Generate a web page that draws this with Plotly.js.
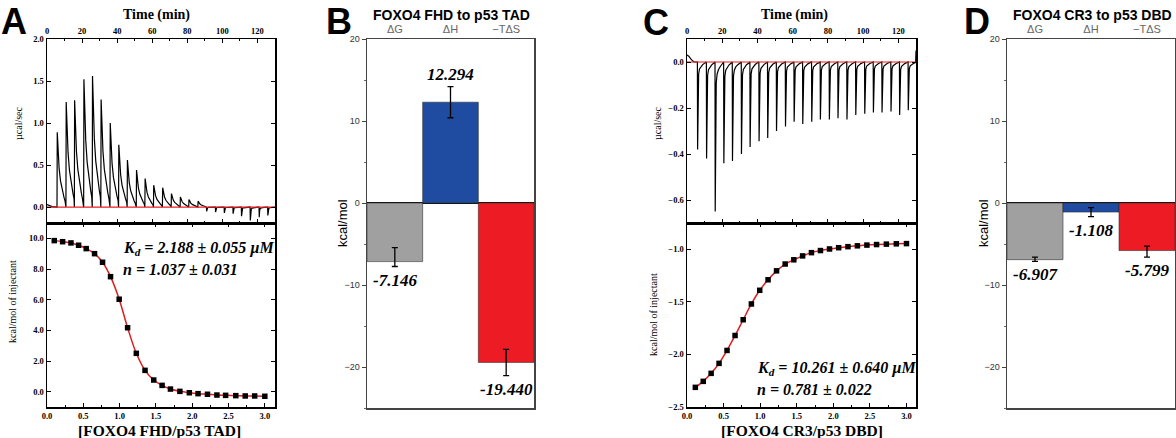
<!DOCTYPE html>
<html>
<head>
<meta charset="utf-8">
<script src="https://cdn.plot.ly/plotly-3.0.1.min.js"></script>
<style>html,body{margin:0;padding:0;background:#fff;}#chart{width:1176px;height:438px;}</style>
</head>
<body>
<div id="chart"></div>
<script>
// ---------- Panel A : FOXO4 FHD titrated into p53 TAD ----------
const injTimeA = [5.7, 10.8, 15.6, 20.9, 25.8, 30.7, 35.9, 40.8, 45.7, 50.9, 55.8, 60.7, 65.8, 70.8, 75.9, 80.8, 86.0, 90.9, 96.0, 101.0, 106.0, 110.8, 115.8, 120.9, 125.8];
const peakA = [0.89, 1.25, 1.27, 1.52, 1.56, 1.28, 1.00, 0.74, 0.56, 0.44, 0.34, 0.26, 0.23, 0.16, 0.12, 0.09, 0.07, -0.05, -0.06, -0.07, -0.08, -0.11, -0.16, -0.12, -0.10];
// decay profile of an injection peak (broad for large peaks, sharp for small dips)
const broadOffset = [0, 0.15, 0.6, 1.2, 2.0, 3.0, 4.0, 4.6];
const broadFrac = [0, 1, 0.72, 0.52, 0.35, 0.22, 0.13, 0.08];
const sharpOffset = [0, 0.12, 0.35, 0.7, 1.2, 2.0, 3.0, 4.3];
const sharpFrac = [0, 1, 0.35, 0.14, 0.08, 0.05, 0.03, 0.01];
const leadTimeA = [0, 1.5, 3.0, 5.5];
const leadValA = [0.03, 0.02, 0.005, 0];
const tailTimeA = [130];
const tailValA = [0];
const ratioA = [0.10, 0.215, 0.33, 0.435, 0.54, 0.655, 0.765, 0.875, 0.994, 1.11, 1.23, 1.35, 1.47, 1.585, 1.70, 1.83, 1.96, 2.08, 2.21, 2.34, 2.46, 2.60, 2.73, 2.86, 3.00];
const heatA = [9.85, 9.78, 9.70, 9.55, 9.33, 9.00, 8.44, 7.50, 6.03, 4.17, 2.50, 1.39, 0.76, 0.41, 0.17, 0.02, -0.07, -0.13, -0.17, -0.22, -0.24, -0.26, -0.28, -0.28, -0.30];

// ---------- Panel C : FOXO4 CR3 titrated into p53 DBD ----------
const injTimeC = [5.9, 11.0, 15.9, 20.8, 25.7, 30.8, 35.7, 40.8, 45.7, 50.7, 55.8, 60.7, 65.6, 70.7, 75.6, 80.7, 85.6, 90.7, 95.7, 100.8, 105.7, 110.6, 115.7, 120.6, 125.5];
const peakC = [-0.38, -0.42, -0.65, -0.44, -0.43, -0.40, -0.37, -0.345, -0.33, -0.30, -0.28, -0.26, -0.27, -0.26, -0.25, -0.25, -0.245, -0.25, -0.23, -0.225, -0.22, -0.22, -0.215, -0.23, -0.21];
const leadTimeC = [0, 1.0, 2.5, 4.0, 5.8];
const leadValC = [0.03, 0.025, 0.01, 0.0, 0];
const tailTimeC = [130];
const tailValC = [0.05];
const ratioC = [0.114, 0.222, 0.330, 0.438, 0.547, 0.657, 0.768, 0.880, 0.994, 1.108, 1.224, 1.342, 1.460, 1.580, 1.701, 1.824, 1.948, 2.073, 2.200, 2.329, 2.459, 2.591, 2.725, 2.861, 3.000];
const heatC = [-2.313, -2.256, -2.18, -2.085, -1.962, -1.82, -1.67, -1.52, -1.39, -1.29, -1.205, -1.14, -1.10, -1.063, -1.032, -1.012, -0.997, -0.985, -0.975, -0.967, -0.960, -0.955, -0.951, -0.948, -0.946];

const baselineTime = [0, 130];
const baselineVal = [0, 0];

// ---------- Panels B and D : thermodynamic signatures ----------
const categories = ['ΔG', 'ΔH', '−TΔS'];
const barColors = ['rgb(160,160,160)', 'rgb(31,76,160)', 'rgb(237,28,36)'];
const valuesB = [-7.146, 12.294, -19.440];
const errPlusB = [1.70, 1.90, 1.60];
const errMinusB = [0.60, 1.90, 1.60];
const valuesD = [-6.907, -1.108, -5.799];
const errPlusD = [0.30, 0.55, 0.53];
const errMinusD = [0.20, 0.55, 0.80];

function buildRaw(times, peaks, useBroadForPositive, lt, lv, tt, tv) {
  const x = lt.slice(), y = lv.slice();
  times.forEach((t, i) => {
    const broad = useBroadForPositive && peaks[i] > 0;
    const offs = broad ? broadOffset : sharpOffset;
    const fracs = broad ? broadFrac : sharpFrac;
    offs.forEach((o, j) => { x.push(t + o); y.push(peaks[i] * fracs[j]); });
  });
  tt.forEach((t, i) => { x.push(t); y.push(tv[i]); });
  return {x, y};
}
const rawA = buildRaw(injTimeA, peakA, true, leadTimeA, leadValA, tailTimeA, tailValA);
const rawC = buildRaw(injTimeC, peakC, false, leadTimeC, leadValC, tailTimeC, tailValC);

const W = 1176, H = 438;
const px = v => v / W, py = v => 1 - v / H;

const traces = [
  {x: rawA.x, y: rawA.y, xaxis: 'x', yaxis: 'y', mode: 'lines', line: {color: 'black', width: 1.2}},
  {x: baselineTime, y: baselineVal, xaxis: 'x', yaxis: 'y', mode: 'lines', line: {color: 'rgb(230,30,30)', width: 1.2}},
  {x: ratioA, y: heatA, xaxis: 'x2', yaxis: 'y2', mode: 'lines', line: {color: 'rgb(220,30,30)', width: 1.5, shape: 'spline'}},
  {x: ratioA, y: heatA, xaxis: 'x2', yaxis: 'y2', mode: 'markers', marker: {symbol: 'square', size: 5.5, color: 'black'}},
  {x: categories, y: valuesB, xaxis: 'x3', yaxis: 'y3', type: 'bar',
   marker: {color: barColors, line: {color: 'rgba(40,40,40,0.7)', width: 0.8}},
   error_y: {type: 'data', symmetric: false, array: errPlusB, arrayminus: errMinusB, color: 'black', thickness: 1.3, width: 3}},
  {x: rawC.x, y: rawC.y, xaxis: 'x4', yaxis: 'y4', mode: 'lines', line: {color: 'black', width: 1.2}},
  {x: baselineTime, y: baselineVal, xaxis: 'x4', yaxis: 'y4', mode: 'lines', line: {color: 'rgb(230,30,30)', width: 1.2}},
  {x: ratioC, y: heatC, xaxis: 'x5', yaxis: 'y5', mode: 'lines', line: {color: 'rgb(220,30,30)', width: 1.5, shape: 'spline'}},
  {x: ratioC, y: heatC, xaxis: 'x5', yaxis: 'y5', mode: 'markers', marker: {symbol: 'square', size: 5.5, color: 'black'}},
  {x: categories, y: valuesD, xaxis: 'x6', yaxis: 'y6', type: 'bar',
   marker: {color: barColors, line: {color: 'rgba(40,40,40,0.7)', width: 0.8}},
   error_y: {type: 'data', symmetric: false, array: errPlusD, arrayminus: errMinusD, color: 'black', thickness: 1.3, width: 3}}
];

const serifTick = {family: 'Liberation Serif', size: 8.5, color: '#000000', weight: 700};
function itcAxis(extra) {
  return Object.assign({showline: true, linecolor: 'black', linewidth: 1.5, mirror: 'ticks',
    ticks: 'inside', ticklen: 4, tickwidth: 1, tickcolor: 'black', showgrid: false, zeroline: false,
    tickfont: serifTick, fixedrange: true}, extra);
}
function barYAxis(extra) {
  return Object.assign({showline: true, linecolor: '#444', linewidth: 1.5, mirror: true,
    ticks: 'outside', ticklen: 4, tickcolor: '#444', showgrid: false,
    zeroline: true, zerolinecolor: '#111', zerolinewidth: 1.5,
    range: [-25, 20], tickvals: [-20, -10, 0, 10, 20],
    minor: {dtick: 5, ticks: 'outside', ticklen: 2, tickcolor: '#666'},
    tickfont: {family: 'Liberation Sans', size: 9, color: '#333'}}, extra);
}
function barXAxis(extra) {
  return Object.assign({type: 'category', side: 'top', showline: true, linecolor: '#444', linewidth: 1.5,
    mirror: true, ticks: '', range: [-0.5, 2.5], showgrid: false,
    tickfont: {family: 'Liberation Sans', size: 11, color: '#666'}}, extra);
}

const domAX = [px(47), px(275)], domCX = [px(687), px(916)];
const domTopY = [py(223), py(39)], domBotY = [py(407), py(223)];

const annotations = [];
function ann(text, x, y, font, extra) {
  annotations.push(Object.assign({text, x: px(x), y: py(y), xref: 'paper', yref: 'paper',
    showarrow: false, font, xanchor: 'center', yanchor: 'middle'}, extra || {}));
}
const letterFont = {family: 'Liberation Sans', size: 36, color: 'black', weight: 'bold'};
ann('<b>A</b>', 14, 0, letterFont, {yanchor: 'top', borderpad: 0});
ann('<b>B</b>', 339, 0, letterFont, {yanchor: 'top', borderpad: 0});
ann('<b>C</b>', 656, 1, letterFont, {yanchor: 'top', borderpad: 0});
ann('<b>D</b>', 977, 0, letterFont, {yanchor: 'top', borderpad: 0});

const timeTitleFont = {family: 'Liberation Serif', size: 14, color: 'black'};
ann('<b>Time (min)</b>', 156, 15, timeTitleFont);
ann('<b>Time (min)</b>', 795, 15, timeTitleFont);
const xTitleFont = {family: 'Liberation Serif', size: 15.5, color: 'black'};
ann('<b>[FOXO4 FHD/p53 TAD]</b>', 159, 430, xTitleFont);
ann('<b>[FOXO4 CR3/p53 DBD]</b>', 802, 430, xTitleFont);
const yTitleFont = {family: 'Liberation Serif', size: 10, color: 'black'};
ann('µcal/sec', 18, 123, yTitleFont, {textangle: -90});
ann('kcal/mol of injectant', 12, 302, yTitleFont, {textangle: -90});
ann('µcal/sec', 657, 123, yTitleFont, {textangle: -90});
ann('kcal/mol of injectant', 653, 315, yTitleFont, {textangle: -90});

const fitFont = {family: 'Liberation Serif', size: 16, color: 'black'};
ann('<b><i>K<sub>d</sub> = 2.188 ± 0.055 µM</i></b>', 122, 248, fitFont, {xanchor: 'left', borderpad: 0});
ann('<b><i>n = 1.037 ± 0.031</i></b>', 122, 269, fitFont, {xanchor: 'left', borderpad: 0});
ann('<b><i>K<sub>d</sub> = 10.261 ± 0.640 µM</i></b>', 756, 368, fitFont, {xanchor: 'left', borderpad: 0});
ann('<b><i>n = 0.781 ± 0.022</i></b>', 756, 389, fitFont, {xanchor: 'left', borderpad: 0});

const panelTitleFont = {family: 'Liberation Sans', size: 14, color: 'black'};
ann('<b>FOXO4 FHD to p53 TAD</b>', 451, 15, panelTitleFont);
ann('<b>FOXO4 CR3 to p53 DBD</b>', 1092, 15, panelTitleFont);
const kcalFont = {family: 'Liberation Sans', size: 13, color: 'black'};
ann('kcal/mol', 342, 223, kcalFont, {textangle: -90});
ann('kcal/mol', 983, 223, kcalFont, {textangle: -90});

// value labels on the bars, placed through the data axes
const valFont = {family: 'Liberation Serif', size: 17, color: 'black'};
function barLabels(vals, ep, em, xr, yr) {
  vals.forEach((v, i) => {
    const pos = v >= 0;
    annotations.push({text: '<b><i>' + v.toFixed(3) + '</i></b>', x: categories[i],
      y: pos ? v + ep[i] : v - em[i], xref: xr, yref: yr, showarrow: false, font: valFont,
      xanchor: 'center', yanchor: pos ? 'bottom' : 'top', yshift: pos ? 1 : -2});
  });
}
barLabels(valuesB, errPlusB, errMinusB, 'x3', 'y3');
barLabels(valuesD, errPlusD, errMinusD, 'x6', 'y6');

const layout = {
  width: W, height: H, margin: {l: 0, r: 0, t: 0, b: 0}, showlegend: false,
  paper_bgcolor: 'white', plot_bgcolor: 'white', bargap: 0,
  xaxis: itcAxis({domain: domAX, anchor: 'y', side: 'top', range: [0, 130], tick0: 0, dtick: 20,
    minor: {dtick: 10, ticks: 'inside', ticklen: 2}}),
  yaxis: itcAxis({domain: domTopY, anchor: 'x', range: [-0.19, 2.0], tickvals: [0, 0.5, 1.0, 1.5, 2.0], tickformat: '.1f'}),
  xaxis2: itcAxis({domain: domAX, anchor: 'y2', range: [0, 3.14], tick0: 0, dtick: 0.5, tickformat: '.1f',
    minor: {dtick: 0.25, ticks: 'inside', ticklen: 2}}),
  yaxis2: itcAxis({domain: domBotY, anchor: 'x2', range: [-1, 11], tickvals: [0, 2, 4, 6, 8, 10], tickformat: '.1f'}),
  xaxis3: barXAxis({domain: [px(367), px(534)], anchor: 'y3'}),
  yaxis3: barYAxis({domain: [py(408), py(39)], anchor: 'x3'}),
  xaxis4: itcAxis({domain: domCX, anchor: 'y4', side: 'top', range: [0, 130], tick0: 0, dtick: 20,
    minor: {dtick: 10, ticks: 'inside', ticklen: 2}}),
  yaxis4: itcAxis({domain: domTopY, anchor: 'x4', range: [-0.7, 0.1], tickvals: [-0.6, -0.4, -0.2, 0.0], tickformat: '.1f'}),
  xaxis5: itcAxis({domain: domCX, anchor: 'y5', range: [0, 3.13], tick0: 0, dtick: 0.5, tickformat: '.1f',
    minor: {dtick: 0.25, ticks: 'inside', ticklen: 2}}),
  yaxis5: itcAxis({domain: domBotY, anchor: 'x5', range: [-2.5, -0.75], tickvals: [-2.5, -2.0, -1.5, -1.0], tickformat: '.1f'}),
  xaxis6: barXAxis({domain: [px(1007), px(1175)], anchor: 'y6'}),
  yaxis6: barYAxis({domain: [py(408), py(39)], anchor: 'x6'}),
  annotations
};

Plotly.newPlot('chart', traces, layout, {staticPlot: true, displayModeBar: false});
</script>
</body>
</html>
